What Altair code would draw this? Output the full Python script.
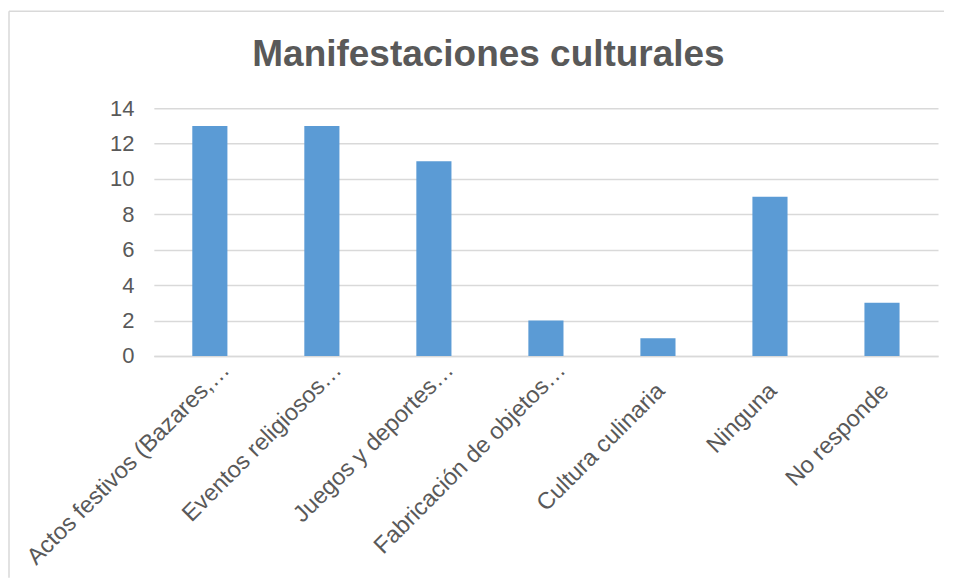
import altair as alt
import pandas as pd

categories = [
    "Actos festivos (Bazares,…",
    "Eventos religiosos…",
    "Juegos y deportes…",
    "Fabricación de objetos…",
    "Cultura culinaria",
    "Ninguna",
    "No responde",
]
values = [13, 13, 11, 2, 1, 9, 3]
y_ticks = [0, 2, 4, 6, 8, 10, 12, 14]
title_text = "Manifestaciones culturales"

df = pd.DataFrame({"categoria": categories, "valor": values})

FONT = "Liberation Sans"
TXT = "#595959"
GRID = "#D9D9D9"
W, H = 785, 248
TRUNC = "indexof(datum.label, '…') >= 0"

bars = alt.Chart(df).mark_bar(color="#5B9BD5").encode(
    x=alt.X(
        "categoria:N",
        sort=categories,
        scale=alt.Scale(paddingInner=0.6865, paddingOuter=0.34325),
        axis=alt.Axis(
            title=None,
            ticks=False,
            domainColor=GRID,
            domainWidth=1.5,
            labelAngle=315,
            labelAlign="right",
            labelBaseline="middle",
            labelFont=FONT,
            labelFontSize=23.5,
            labelColor=TXT,
            labelLimit=0,
            labelOffset={"condition": {"test": TRUNC, "value": 16}, "value": 3},
            labelPadding={"condition": {"test": TRUNC, "value": 10}, "value": 31},
        ),
    ),
    y=alt.Y(
        "valor:Q",
        scale=alt.Scale(domain=[0, 14], nice=False),
        axis=alt.Axis(
            title=None,
            values=y_ticks,
            ticks=False,
            domain=False,
            gridColor=GRID,
            gridWidth=1.5,
            labelFont=FONT,
            labelFontSize=22,
            labelColor=TXT,
            labelPadding=20,
        ),
    ),
)

single = alt.Data(values=[{"t": title_text}])
top_line = alt.Chart(single).mark_rule(color=GRID, strokeWidth=1.5).encode(
    x=alt.value(-145), x2=alt.value(791), y=alt.value(-97)
)
left_line = alt.Chart(single).mark_rule(color=GRID, strokeWidth=1.5).encode(
    x=alt.value(-145), y=alt.value(-97), y2=alt.value(470)
)
title = alt.Chart(single).mark_text(
    font=FONT, fontSize=37, fontWeight="bold", color=TXT,
    align="center", baseline="middle",
).encode(text="t:N", x=alt.value(335), y=alt.value(-53))

chart = alt.layer(bars, top_line, left_line, title).properties(
    width=W,
    height=H,
    padding={"left": 0, "top": 2, "right": 0, "bottom": 0},
).configure_view(stroke=None)

chart.save("out.html", embed_options={"renderer": "svg", "actions": False})
